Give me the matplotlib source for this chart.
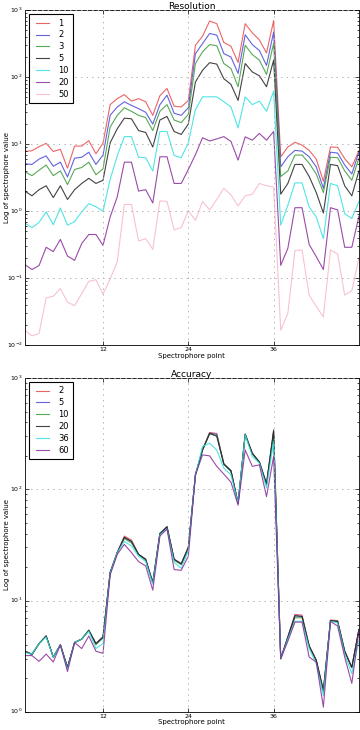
"""Spectrophore resolution / accuracy log plots -> out.png"""
import matplotlib
matplotlib.use("Agg")
import matplotlib.pyplot as plt
import numpy as np

plt.style.use("classic")

POINTS = np.arange(1, 49)
XTICKS = [12, 24, 36]

# ── Resolution panel ──────────────────────────────────────
RES_LABELS = ["1", "2", "3", "5", "10", "20", "50"]
res_1 = [7.8, 8.0, 9.2, 10.3, 7.8, 8.4, 4.4, 9.4, 9.4, 11.3, 7.2, 10.4,
         39, 48, 55, 44, 48, 43, 27, 53, 68, 37, 36, 45,
         300, 410, 690, 630, 330, 290, 166, 630, 460, 360, 230, 700,
         6.5, 9.1, 10.7, 9.7, 8.1, 6.0, 2.8, 9.1, 9.0, 6.1, 4.6, 8.0]
res_2 = [5.1, 5.0, 6.0, 6.7, 4.7, 5.4, 3.25, 6.2, 6.4, 7.6, 5.0, 6.9,
         27, 36, 43, 38, 34, 30, 20, 39, 54, 29, 27, 35,
         225, 318, 450, 425, 225, 200, 114, 430, 307, 250, 150, 470,
         4.6, 6.5, 8.1, 7.9, 6.5, 4.6, 2.2, 7.6, 7.4, 4.9, 3.6, 7.6]
res_3 = [3.9, 3.4, 4.1, 4.9, 3.4, 4.0, 2.5, 4.2, 4.5, 5.4, 3.5, 4.3,
         18, 27, 35, 31, 27, 25, 16, 31, 39, 23, 21, 28,
         160, 240, 307, 295, 160, 135, 72, 300, 218, 180, 110, 320,
         3.3, 4.0, 6.9, 6.9, 5.2, 3.6, 1.9, 6.4, 6.3, 4.0, 2.9, 6.2]
res_5 = [2.0, 1.7, 2.1, 2.4, 1.6, 2.4, 1.5, 2.1, 2.6, 3.1, 2.6, 2.9,
         10.5, 17, 24.5, 24, 16, 15, 9.1, 23, 26, 15.5, 14, 20,
         85, 127, 165, 157, 95, 78, 45, 160, 120, 105, 72, 180,
         1.8, 2.6, 5.0, 5.0, 3.3, 1.9, 0.94, 5.0, 4.8, 2.4, 1.7, 4.0]
res_10 = [0.67, 0.57, 0.68, 0.98, 0.63, 1.12, 0.62, 0.7, 0.98, 1.3, 1.17, 1.0,
          3.0, 6.7, 13, 13, 6.4, 6.3, 4.0, 15.5, 15.5, 6.8, 6.3, 10.5,
          33, 51, 51, 51, 43, 36, 17.5, 51, 39, 44, 31, 62,
          0.62, 1.23, 2.65, 2.65, 1.16, 0.82, 0.39, 2.6, 2.4, 0.92, 0.78, 1.4]
res_20 = [0.16, 0.135, 0.155, 0.29, 0.25, 0.38, 0.215, 0.185, 0.33, 0.45, 0.45, 0.31,
          0.82, 1.64, 5.4, 5.4, 2.0, 2.1, 1.33, 6.5, 6.5, 2.6, 2.6, 4.2,
          7.0, 12.5, 11.2, 12, 13, 11, 5.8, 12.9, 11.5, 14.5, 11.5, 15.5,
          0.156, 0.28, 1.13, 1.13, 0.32, 0.21, 0.135, 1.13, 1.05, 0.29, 0.29, 0.84]
res_50 = [0.0168, 0.0138, 0.015, 0.051, 0.054, 0.070, 0.044, 0.039, 0.059, 0.090, 0.095, 0.058,
          0.098, 0.175, 1.26, 1.26, 0.36, 0.39, 0.27, 1.43, 1.4, 0.53, 0.57, 1.02,
          0.73, 1.4, 1.05, 1.5, 2.2, 1.76, 1.2, 1.7, 1.8, 2.6, 2.4, 2.3,
          0.0168, 0.030, 0.26, 0.265, 0.056, 0.038, 0.0265, 0.265, 0.23, 0.056, 0.065, 0.2]
RES_SERIES = [res_1, res_2, res_3, res_5, res_10, res_20, res_50]

# ── Accuracy panel ────────────────────────────────────────
ACC_LABELS = ["2", "5", "10", "20", "36", "60"]
acc_2 = [3.5, 3.3, 4.1, 4.8, 3.1, 4.0, 2.5, 4.2, 4.5, 5.4, 4.1, 4.7,
         17.8, 27, 38, 35, 26, 23.5, 14.5, 40, 46, 23.5, 21.4, 30,
         135, 228, 325, 318, 169, 147, 75, 313, 211, 176, 112, 330,
         3.0, 4.7, 7.5, 7.4, 3.9, 2.9, 1.55, 6.7, 6.6, 3.5, 2.5, 5.5]
acc_5 = [3.5, 3.3, 4.1, 4.8, 3.1, 4.0, 2.5, 4.2, 4.5, 5.4, 4.1, 4.7,
         17.8, 27, 37, 34, 26, 23.5, 14.5, 40, 46, 23.5, 21.4, 30,
         135, 226, 320, 313, 169, 147, 75, 313, 211, 176, 112, 330,
         3.0, 4.7, 7.3, 7.2, 3.9, 2.9, 1.55, 6.6, 6.5, 3.5, 2.5, 5.5]
acc_10 = [3.5, 3.3, 4.1, 4.8, 3.1, 4.0, 2.5, 4.2, 4.5, 5.4, 4.0, 4.6,
          17.8, 27, 36, 33, 26, 23, 14.5, 40, 46, 23, 21, 29,
          135, 226, 315, 305, 167, 145, 75, 313, 208, 174, 110, 320,
          3.0, 4.6, 7.0, 7.0, 3.9, 2.9, 1.5, 6.6, 6.5, 3.5, 2.5, 5.4]
acc_20 = [3.5, 3.26, 4.1, 4.8, 3.1, 4.0, 2.5, 4.2, 4.5, 5.4, 4.1, 4.7,
          17.8, 27, 37, 34, 26, 23.5, 14.5, 40, 46, 23.5, 21.4, 30,
          135, 226, 319, 300, 169, 147, 75, 313, 211, 176, 112, 342,
          3.0, 4.7, 7.3, 7.2, 3.9, 2.9, 1.55, 6.6, 6.5, 3.5, 2.5, 5.5]
acc_36 = [3.4, 3.3, 4.1, 4.7, 3.1, 4.0, 2.4, 4.2, 4.5, 5.3, 3.7, 4.1,
          17.5, 27, 34, 31, 25, 22.5, 14, 39, 44, 22, 19.5, 28,
          135, 243, 260, 226, 155, 135, 75, 310, 198, 172, 103, 269,
          3.0, 4.5, 6.5, 6.5, 3.7, 2.7, 1.4, 6.5, 6.3, 3.3, 2.2, 4.3]
acc_60 = [3.2, 3.2, 2.84, 3.3, 2.8, 4.0, 2.3, 4.2, 3.7, 4.8, 3.5, 3.35,
          17, 26, 32, 27, 22.4, 20.5, 12.4, 38, 44, 19, 18.7, 25,
          135, 204, 200, 161, 137, 116, 72, 226, 161, 166, 86, 198,
          3.0, 4.3, 6.4, 6.4, 3.1, 2.8, 1.1, 6.5, 5.9, 3.1, 1.8, 5.3]
ACC_SERIES = [acc_2, acc_5, acc_10, acc_20, acc_36, acc_60]

COLORS = ["#e84a4a", "#4848d8", "#3a9a3a", "#222222", "#33e0e0", "#8a2a9a", "#f5b8c8"]


def draw_panel(ax, series, labels, title, ylim):
    for vals, lab, col in zip(series, labels, COLORS):
        ax.plot(POINTS, vals, color=col, alpha=0.85, lw=0.8, label=lab)
    ax.set_yscale("log")
    ax.set_xlim(1, 48)
    ax.set_ylim(*ylim)
    ax.set_xticks(XTICKS)
    ax.grid(True, which="major", color="0.7", linestyle=":", linewidth=0.7)
    ax.tick_params(labelsize=4.5, length=3, width=0.5, pad=1.5)
    ax.tick_params(which="minor", length=1.5, width=0.5)
    ax.set_title(title, fontsize=6.5, pad=1)
    ax.set_xlabel("Spectrophore point", fontsize=5)
    ax.xaxis.set_label_coords(0.5, -0.022)
    ax.set_ylabel("Log of spectrophore value", fontsize=5)
    ax.yaxis.set_label_coords(-0.045, 0.5)
    for sp in ax.spines.values():
        sp.set_linewidth(0.6)
    leg = ax.legend(loc="upper left", fontsize=6, handlelength=2.2,
                    borderpad=0.5, labelspacing=0.35, frameon=True, fancybox=False)
    leg.get_frame().set_linewidth(0.8)


fig = plt.figure(figsize=(3.6, 7.3), dpi=100, facecolor="white")
ax1 = fig.add_axes([0.069, 0.527, 0.928, 0.459])
ax2 = fig.add_axes([0.069, 0.025, 0.928, 0.457])

draw_panel(ax1, RES_SERIES, RES_LABELS, "Resolution", (1e-2, 1e3))
draw_panel(ax2, ACC_SERIES, ACC_LABELS, "Accuracy", (1e0, 1e3))

fig.savefig("out.png", dpi=100, facecolor="white")
plt.close(fig)
